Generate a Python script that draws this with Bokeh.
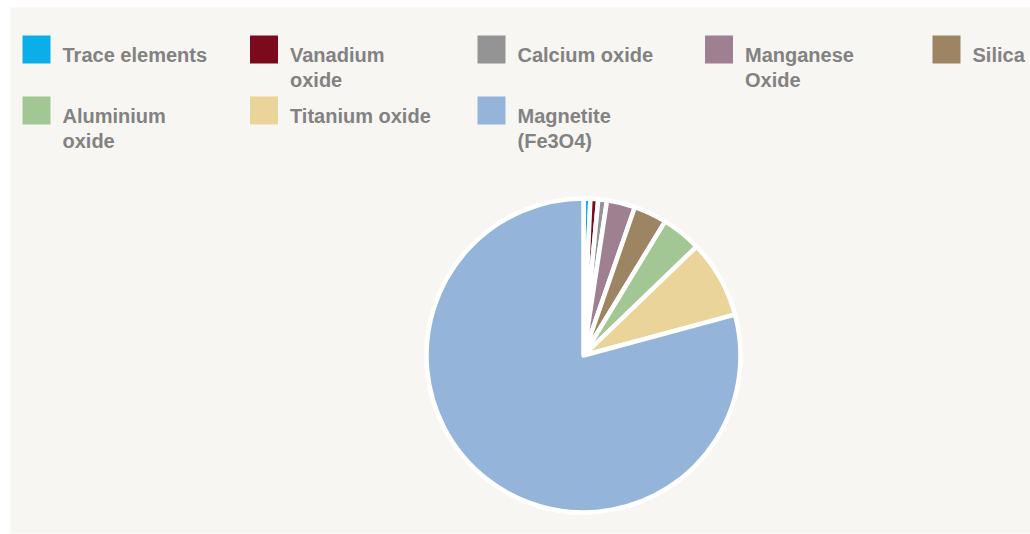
import math
from bokeh.plotting import figure
from bokeh.models import Range1d, ColumnDataSource
from bokeh.core.properties import value
from bokeh.embed import file_html
from bokeh.resources import INLINE

# ---- data ----
components = ["Trace elements", "Vanadium oxide", "Calcium oxide", "Manganese Oxide",
              "Silica", "Aluminium oxide", "Titanium oxide", "Magnetite (Fe3O4)"]
legend_labels = ["Trace elements", "Vanadium\noxide", "Calcium oxide", "Manganese\nOxide",
                 "Silica", "Aluminium\noxide", "Titanium oxide", "Magnetite\n(Fe3O4)"]
percent = [0.7, 0.8, 0.9, 2.9, 3.4, 4.1, 8.0, 79.2]
colors = ["#0aaee8", "#7b0a1c", "#949494", "#9e8091",
          "#9d8462", "#a3c794", "#ebd49a", "#94b4da"]

W, H = 1030, 534
BG = "#f7f6f3"
TXT = "#828282"

p = figure(width=W, height=H, output_backend="svg", toolbar_location=None,
           x_range=Range1d(10, 1030), y_range=Range1d(1, 527),
           min_border_left=10, min_border_top=7, min_border_right=0, min_border_bottom=1)
p.axis.visible = False
p.grid.visible = False
p.outline_line_color = None
p.background_fill_color = BG
p.border_fill_color = "white"

def Y(py):  # pixel-from-top -> data y
    return H - py

# ---- pie ----
total = sum(percent)
cum = [0.0]
for v in percent:
    cum.append(cum[-1] + v / total)
starts = [math.pi / 2 - 2 * math.pi * cum[i + 1] for i in range(len(percent))]
ends = [math.pi / 2 - 2 * math.pi * cum[i] for i in range(len(percent))]
cx, cy, r = 583, 355, 157
src = ColumnDataSource(dict(x=[cx] * len(percent), y=[Y(cy)] * len(percent),
                            start=starts, end=ends, color=colors, name=components))
p.wedge(x="x", y="y", radius=r, radius_units="screen", start_angle="start",
        end_angle="end", fill_color="color", line_color="white", line_width=4.5,
        line_join="round", source=src)

# ---- legend (manual grid, 5 columns) ----
ncol = 5
col_x0, col_dx = 22, 227.5
row_y0, row_dy = 35, 61
sq = 28
lx, ly, tx, ty = [], [], [], []
for i in range(len(components)):
    c, rr = i % ncol, i // ncol
    x0 = col_x0 + c * col_dx
    y0 = row_y0 + rr * row_dy
    lx.append(x0 + sq / 2)
    ly.append(Y(y0 + sq / 2))
    tx.append(x0 + 40)
    ty.append(Y(y0 + 8))
p.rect(x=lx, y=ly, width=sq, height=sq, width_units="screen", height_units="screen",
       fill_color=colors, line_color=None)
p.text(x=tx, y=ty, text=legend_labels, text_font=value("Liberation Sans"),
       text_font_style="bold", text_font_size="20px", text_color=TXT,
       text_baseline="top", text_align="left", text_line_height=1.15)

open("out.html", "w").write(file_html(p, INLINE))
